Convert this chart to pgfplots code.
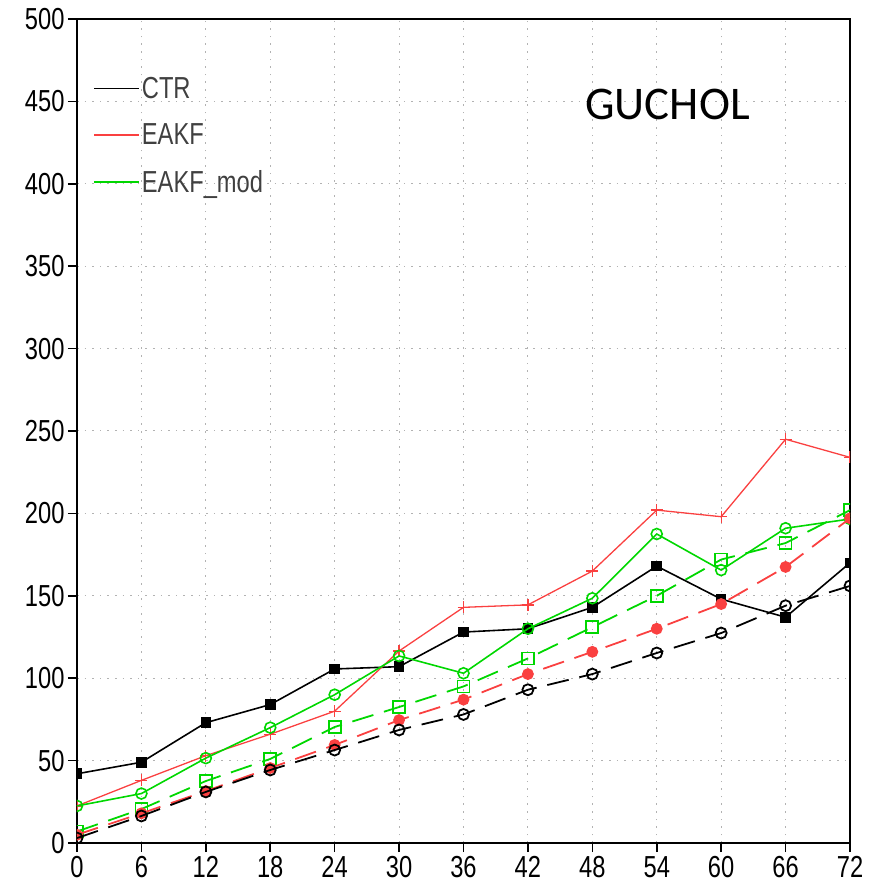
\documentclass[border=0pt]{standalone}
\usepackage{fontspec}
\setmainfont{Liberation Sans}[FakeStretch=0.78]
\newfontfamily\guchfont{Carlito}
\usepackage{pgfplots}
\pgfplotsset{compat=1.18}
\definecolor{myred}{RGB}{250,64,64}
\definecolor{mygreen}{RGB}{0,215,0}
\begin{document}
\begin{tikzpicture}
\begin{axis}[
  scale only axis, width=773bp, height=824bp,
  xmin=0, xmax=72, ymin=0, ymax=500,
  xtick={0,6,...,72}, ytick={0,50,...,500},
  grid=major, major grid style={dash pattern=on 1.6bp off 6bp, gray!60, line width=1pt},
  tick align=outside, xtick pos=left, ytick pos=left,
  major tick length=9bp,
  tick style={black, line width=1.6pt},
  axis line style={line width=1.6pt},
  ticklabel style={font=\fontsize{30.5}{36}\selectfont},
  xticklabel style={inner sep=4bp},
  /pgf/number format/assume math mode=true,
  clip marker paths=true,
  legend style={at={(axis cs:1.5,466)}, anchor=north west, draw=none, fill=none,
    font=\fontsize{30.5}{36}\selectfont, text=black!75, row sep=20bp, inner sep=0pt},
  legend cell align=left,
  legend image code/.code={\draw[#1, line width=1.6pt] (0bp,0bp) -- (45bp,0bp);},
]
\addplot[black, line width=1.6pt, mark=square*, mark size=4.5bp, mark options={solid}] coordinates {
(0,42) (6,49) (12,73) (18,84) (24,105.6) (30,107) (36,128) (42,130) (48,143) (54,168) (60,148) (66,137) (72,170)};
\addplot[myred, line width=1.3pt, mark=+, mark size=6bp, mark options={solid, line width=1.3pt}] coordinates {
(0,22.5) (6,38) (12,53) (18,66) (24,80) (30,116.5) (36,143) (42,144.5) (48,165) (54,202) (60,198) (66,245) (72,234)};
\addplot[mygreen, line width=1.6pt, mark=o, mark size=5.5bp, mark options={solid, fill=white}] coordinates {
(0,22.5) (6,30) (12,51.5) (18,70) (24,90) (30,113.5) (36,103) (42,130) (48,148.5) (54,187.5) (60,165.6) (66,191) (72,196.6)};
\addplot[mygreen, line width=1.8pt, dash pattern=on 22bp off 11bp, mark=square, mark size=6bp, mark options={solid, fill=white}, forget plot] coordinates {
(0,7) (6,20.6) (12,37.6) (18,51) (24,70.4) (30,82.5) (36,95) (42,112) (48,131) (54,150) (60,172) (66,182) (72,202)};
\addplot[myred, line width=1.8pt, dash pattern=on 22bp off 11bp, mark=*, mark size=5bp, mark options={solid}, forget plot] coordinates {
(0,5) (6,18) (12,31.5) (18,45.5) (24,59.5) (30,74.6) (36,87) (42,102.5) (48,116) (54,130) (60,145) (66,167.5) (72,197)};
\addplot[black, line width=1.8pt, dash pattern=on 22bp off 11bp, mark=o, mark size=5.5bp, mark options={solid, fill=white}, forget plot] coordinates {
(0,3) (6,16.4) (12,31) (18,44.3) (24,56.4) (30,68.6) (36,78) (42,93) (48,102.5) (54,115.3) (60,127.4) (66,144) (72,156)};
\legend{CTR,EAKF,EAKF\_mod}
\node[font=\guchfont\fontsize{47}{52}\selectfont] at (axis cs:55,448) {GUCHOL};
\end{axis}
\path (-77bp,-46bp) rectangle (804bp,843bp);
\end{tikzpicture}
\end{document}
